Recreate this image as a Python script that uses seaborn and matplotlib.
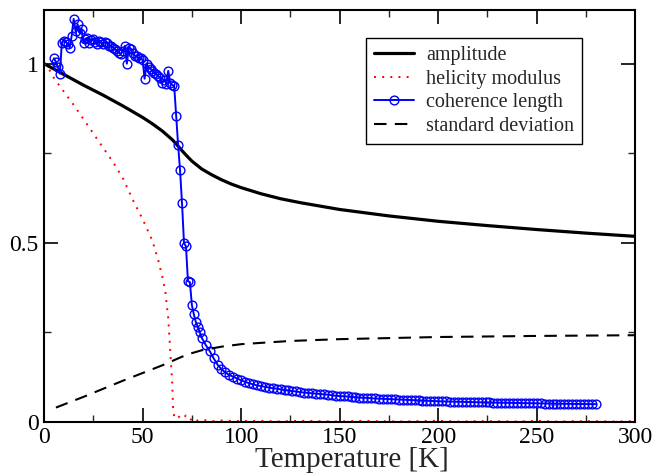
import numpy as np
import pandas as pd
import matplotlib
matplotlib.use("Agg")
import matplotlib.pyplot as plt
import seaborn as sns
from matplotlib.ticker import MultipleLocator

# ---------------- data ----------------
amp_T = [0, 10, 20, 30, 40, 50, 55, 60, 65, 68, 70, 72, 75, 80, 85, 90, 95, 100, 110, 120, 130,
         150, 175, 200, 225, 250, 275, 300]
amp_v = [1.0, 0.97, 0.94, 0.912, 0.882, 0.85, 0.832, 0.812, 0.788, 0.77, 0.757, 0.745, 0.728, 0.706,
         0.69, 0.676, 0.664, 0.654, 0.637, 0.623, 0.612, 0.593, 0.575, 0.56, 0.548, 0.537, 0.527,
         0.518]

hel_T = [0, 2, 5, 10, 15, 20, 25, 30, 35, 40, 45, 50, 55, 58, 60, 61.5, 63, 64, 65, 65.5, 66, 67, 68,
         70, 72, 74, 76, 78, 80, 85, 90, 100, 110, 120, 130, 140, 150, 160, 170, 180, 190, 200,
         210, 220, 230, 240, 250, 260, 270, 280, 290, 300]
hel_v = [1.0, 0.99, 0.96, 0.922, 0.885, 0.845, 0.805, 0.765, 0.725, 0.68, 0.62, 0.566, 0.505, 0.45,
         0.405, 0.365, 0.29, 0.20, 0.11, 0.035, 0.015, 0.01, 0.016, 0.008, 0.018, 0.005, 0.012, 0.003,
         0.006, 0.002, 0.004, 0.002, 0.003, 0.001, 0.003, 0.002, 0.001, 0.003, 0.002, 0.001, 0.002,
         0.003, 0.001, 0.002, 0.002, 0.001, 0.003, 0.001, 0.002, 0.002, 0.001, 0.002]

coh_T = [5, 6, 7, 8, 9, 10, 11, 12, 13, 14, 15, 16, 17, 18, 19, 20, 21, 22, 23, 24, 25, 26, 27, 28,
         29, 30, 31, 32, 33, 34, 35, 36, 37, 38, 39, 40, 41, 42, 43, 44, 45, 46, 47, 48, 49, 50, 51,
         52, 53, 54, 55, 56, 57, 58, 59, 60, 61, 62, 63, 64, 65, 66, 67, 68, 69, 70, 71, 72, 73, 74,
         75, 76, 77, 78, 79, 80, 82, 84, 86, 88, 90, 92, 94, 96, 98, 100, 102, 104, 106, 108, 110,
         112, 114, 116, 118, 120, 122, 124, 126, 128, 130, 132, 134, 136, 138, 140, 142, 144, 146,
         148, 150, 152, 154, 156, 158, 160, 162, 164, 166, 168, 170, 172, 174, 176, 178, 180, 182,
         184, 186, 188, 190, 192, 194, 196, 198, 200, 202, 204, 206, 208, 210, 212, 214, 216, 218,
         220, 222, 224, 226, 228, 230, 232, 234, 236, 238, 240, 242, 244, 246, 248, 250, 252, 254,
         256, 258, 260, 262, 264, 266, 268, 270, 272, 274, 276, 278, 280]
coh_v = [1.015, 1.005, 0.99, 0.972, 1.058, 1.064, 1.06, 1.056, 1.045, 1.078, 1.125, 1.09, 1.11, 1.086,
         1.097, 1.058, 1.07, 1.072, 1.058, 1.065, 1.07, 1.06, 1.056, 1.064, 1.06, 1.056, 1.06, 1.058,
         1.05, 1.048, 1.045, 1.04, 1.036, 1.03, 1.028, 1.035, 1.05, 1.0, 1.045, 1.042, 1.03, 1.022,
         1.022, 1.015, 1.017, 1.01, 0.958, 1.0, 0.99, 0.986, 0.98, 0.975, 0.972, 0.965, 0.961, 0.947,
         0.955, 0.944, 0.98, 0.947, 0.94, 0.939, 0.855, 0.774, 0.702, 0.61, 0.499, 0.49, 0.393, 0.39,
         0.326, 0.30, 0.279, 0.265, 0.25, 0.235, 0.215, 0.198, 0.178, 0.16, 0.147, 0.138, 0.131, 0.126,
         0.121, 0.116, 0.112, 0.108, 0.105, 0.102, 0.100, 0.098, 0.096, 0.094, 0.093, 0.091, 0.089,
         0.088, 0.086, 0.085, 0.083, 0.082, 0.081, 0.080, 0.079, 0.078, 0.077, 0.076, 0.0745, 0.073,
         0.072, 0.0715, 0.071, 0.070, 0.069, 0.068, 0.0675, 0.067, 0.066, 0.0655, 0.065, 0.0645,
         0.064, 0.0635, 0.063, 0.0625, 0.062, 0.0615, 0.061, 0.0605, 0.060, 0.0595, 0.059, 0.0585,
         0.058, 0.0577, 0.0574, 0.0571, 0.0568, 0.0565, 0.0562, 0.0559, 0.0556, 0.0553, 0.055,
         0.0548, 0.0546, 0.0544, 0.0542, 0.054, 0.0538, 0.0536, 0.0534, 0.0532, 0.053, 0.0528,
         0.0526, 0.0524, 0.0522, 0.052, 0.0518, 0.0516, 0.0514, 0.0512, 0.051, 0.0508, 0.0506,
         0.0504, 0.0503, 0.0502, 0.0501, 0.05, 0.0499, 0.0498, 0.0497, 0.0496]

std_T = [6, 20, 40, 60, 70, 75, 80, 90, 100, 125, 150, 200, 250, 300]
std_v = [0.04, 0.07, 0.115, 0.158, 0.182, 0.192, 0.20, 0.21, 0.217, 0.226, 0.231, 0.237, 0.24, 0.242]

x_ticks = [0, 50, 100, 150, 200, 250, 300]
y_ticks = [0, 0.5, 1]
y_tick_labels = ["0", "0.5", "1"]

# ---------------- style ----------------
sns.set_theme(style="ticks")
plt.rcParams["font.family"] = ["Liberation Serif", "DejaVu Serif"]

fig = plt.figure(figsize=(6.68, 4.73), dpi=100)
ax = fig.add_axes([0.066, 0.108, 0.885, 0.871])

sns.lineplot(x=amp_T, y=amp_v, ax=ax, color="black", linewidth=2.3, label="amplitude",
             estimator=None, sort=False)
sns.lineplot(x=hel_T, y=hel_v, ax=ax, color="red", linewidth=1.4, label="helicity modulus",
             estimator=None, sort=False, linestyle=(0, (1, 3.2)))
sns.lineplot(x=coh_T, y=coh_v, ax=ax, color="blue", linewidth=1.4, label="coherence length",
             estimator=None, sort=False, marker="o", markersize=6.3, markerfacecolor="none",
             markeredgecolor="blue", markeredgewidth=1.0)
sns.lineplot(x=std_T, y=std_v, ax=ax, color="black", linewidth=1.5, label="standard deviation",
             estimator=None, sort=False, linestyle=(0, (6, 4)))

ax.set_xlim(0, 300)
ax.set_ylim(0, 1.15)
ax.set_xticks(x_ticks)
ax.set_xticklabels([str(t) for t in x_ticks])
ax.set_yticks(y_ticks)
ax.set_yticklabels(y_tick_labels)
ax.xaxis.set_minor_locator(MultipleLocator(25))
ax.yaxis.set_minor_locator(MultipleLocator(0.25))
ax.tick_params(which="major", direction="in", length=10, width=1.2, top=True, right=True,
               labelsize=17, colors="black", pad=4)
ax.tick_params(which="minor", direction="in", length=5, width=1.0, top=True, right=True)
for s in ax.spines.values():
    s.set_linewidth(1.5)
    s.set_color("black")
ax.set_xlabel("Temperature [K]", fontsize=21, labelpad=-1, x=0.52)
ax.set_ylabel("")

leg = ax.legend(loc="upper right", bbox_to_anchor=(0.91, 0.932), borderaxespad=0,
                fontsize=14.5, frameon=True, fancybox=False, edgecolor="black", framealpha=1,
                handlelength=2.0, handletextpad=0.6, borderpad=0.4, labelspacing=0.22)
leg.get_frame().set_linewidth(1.0)

fig.savefig("out.png", dpi=100)
